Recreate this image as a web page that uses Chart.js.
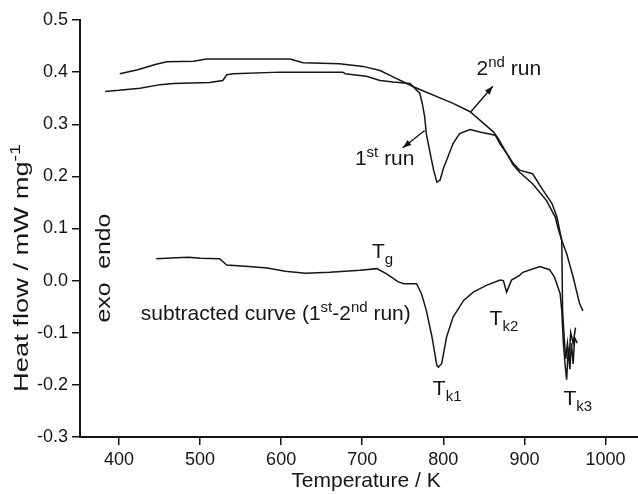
<!DOCTYPE html>
<html>
<head>
<meta charset="utf-8">
<script src="https://cdn.jsdelivr.net/npm/chart.js@4.4.0/dist/chart.umd.min.js"></script>
<style>
  html, body { margin: 0; padding: 0; background: #fff; }
  #wrap { width: 638px; height: 494px; }
</style>
</head>
<body>
<div id="wrap"><canvas id="dscChart" width="638" height="494"></canvas></div>
<script>
// values: temperature in K, heat flow in mW/mg
const run1Temp = [383, 400, 426, 451, 467, 512, 528, 533, 541, 599, 676, 679, 705, 722, 738, 759, 771, 774, 777, 779, 783, 788, 792, 796, 800, 804, 812, 820, 833, 845, 864, 870, 878, 886, 894, 910, 927, 938, 941, 946, 947, 949, 951, 953, 955, 957, 960, 963];
const run1Flow = [0.363, 0.365, 0.369, 0.376, 0.378, 0.380, 0.384, 0.395, 0.397, 0.400, 0.400, 0.397, 0.392, 0.384, 0.381, 0.378, 0.359, 0.340, 0.314, 0.282, 0.250, 0.212, 0.189, 0.193, 0.215, 0.231, 0.263, 0.282, 0.290, 0.285, 0.279, 0.262, 0.244, 0.222, 0.208, 0.186, 0.154, 0.122, 0.103, 0.077, -0.057, -0.110, -0.150, -0.120, -0.150, -0.100, -0.120, -0.090];

const run2Temp = [401, 422, 446, 459, 492, 508, 611, 627, 672, 701, 722, 738, 763, 812, 833, 862, 868, 876, 886, 894, 910, 923, 934, 940, 946, 952, 960, 968, 972];
const run2Flow = [0.397, 0.404, 0.415, 0.420, 0.421, 0.425, 0.425, 0.418, 0.416, 0.411, 0.403, 0.391, 0.372, 0.340, 0.324, 0.285, 0.272, 0.250, 0.225, 0.212, 0.205, 0.173, 0.148, 0.122, 0.077, 0.052, 0.007, -0.044, -0.058];

const subTemp = [446, 470, 486, 500, 524, 533, 560, 583, 605, 630, 660, 697, 718, 730, 744, 751, 767, 773, 779, 786, 792, 794, 798, 804, 812, 825, 837, 853, 870, 874, 878, 884, 894, 898, 919, 931, 937, 944, 946, 948, 950, 952, 954, 956, 958, 960, 962, 965];
const subFlow = [0.042, 0.044, 0.045, 0.043, 0.042, 0.030, 0.027, 0.024, 0.018, 0.014, 0.016, 0.020, 0.023, 0.013, -0.002, -0.006, -0.006, -0.025, -0.057, -0.108, -0.163, -0.166, -0.159, -0.108, -0.070, -0.038, -0.022, -0.009, 0.001, 0.000, -0.022, 0.001, 0.010, 0.016, 0.027, 0.021, 0.007, -0.025, -0.057, -0.120, -0.160, -0.190, -0.130, -0.170, -0.120, -0.160, -0.110, -0.120];

const xTickValues = [400, 500, 600, 700, 800, 900, 1000];
const yTickValues = [-0.3, -0.2, -0.1, 0.0, 0.1, 0.2, 0.3, 0.4, 0.5];

const FONT = "'Liberation Sans', Arial, Helvetica, sans-serif";
const INK = "#151515";
const TEXT_SIZE = 21;

function toPoints(xs, ys) {
  return xs.map(function (x, i) {
    return { x: x, y: ys[i] };
  });
}

// text made of pieces, each piece [text, "", "sub" or "sup"]
function richWidth(ctx, parts, size) {
  let w = 0;
  parts.forEach(function (p) {
    ctx.font = (p[1] ? Math.round(size * 0.72) : size) + "px " + FONT;
    w += ctx.measureText(p[0]).width;
  });
  return w;
}

function drawRich(ctx, parts, x, y, size) {
  let cx = x;
  parts.forEach(function (p) {
    ctx.font = (p[1] ? Math.round(size * 0.72) : size) + "px " + FONT;
    let dy = 0;
    if (p[1] === "sub") dy = size * 0.28;
    if (p[1] === "sup") dy = -size * 0.38;
    ctx.fillText(p[0], cx, y + dy);
    cx += ctx.measureText(p[0]).width;
  });
}

function arrow(ctx, x1, y1, x2, y2) {
  const a = Math.atan2(y2 - y1, x2 - x1);
  ctx.beginPath();
  ctx.moveTo(x1, y1);
  ctx.lineTo(x2, y2);
  ctx.stroke();
  ctx.beginPath();
  ctx.moveTo(x2, y2);
  ctx.lineTo(x2 - 9 * Math.cos(a - 0.35), y2 - 9 * Math.sin(a - 0.35));
  ctx.lineTo(x2 - 9 * Math.cos(a + 0.35), y2 - 9 * Math.sin(a + 0.35));
  ctx.closePath();
  ctx.fill();
}

// labels are placed in data coordinates: [temperature, heat flow]
const plotLabels = [
  { at: [841, 0.394], parts: [["2", ""], ["nd", "sup"], [" run", ""]] },
  { at: [691, 0.221], parts: [["1", ""], ["st", "sup"], [" run", ""]] },
  { at: [712, 0.043], parts: [["T", ""], ["g", "sub"]] },
  { at: [427, -0.076], parts: [["subtracted curve (1", ""], ["st", "sup"], ["-2", ""], ["nd", "sup"], [" run)", ""]] },
  { at: [857, -0.086], parts: [["T", ""], ["k2", "sub"]] },
  { at: [787, -0.220], parts: [["T", ""], ["k1", "sub"]] },
  { at: [948, -0.239], parts: [["T", ""], ["k3", "sub"]] }
];

const plotArrows = [
  { from: [777, 0.288], to: [750, 0.255] },
  { from: [834, 0.324], to: [861, 0.373] }
];

const annotations = {
  id: "annotations",
  afterDatasetsDraw: function (chart) {
    const ctx = chart.ctx;
    const xs = chart.scales.x;
    const ys = chart.scales.y;
    ctx.save();
    ctx.fillStyle = INK;
    ctx.strokeStyle = INK;
    ctx.lineWidth = 1.4;
    ctx.textBaseline = "alphabetic";
    ctx.textAlign = "left";

    plotLabels.forEach(function (l) {
      drawRich(ctx, l.parts, xs.getPixelForValue(l.at[0]), ys.getPixelForValue(l.at[1]), TEXT_SIZE);
    });

    plotArrows.forEach(function (a) {
      arrow(ctx,
        xs.getPixelForValue(a.from[0]), ys.getPixelForValue(a.from[1]),
        xs.getPixelForValue(a.to[0]), ys.getPixelForValue(a.to[1]));
    });

    // exo / endo marker, written upwards (the source figure is a bit stretched vertically)
    ctx.save();
    ctx.translate(xs.getPixelForValue(379) + 8, ys.getPixelForValue(0.024));
    ctx.rotate(-Math.PI / 2);
    ctx.scale(1.18, 1);
    ctx.font = TEXT_SIZE + "px " + FONT;
    ctx.textAlign = "center";
    ctx.fillText("exo  endo", 0, 0);
    ctx.restore();

    // axis titles
    const yTitle = [["Heat flow / mW mg", ""], ["-1", "sup"]];
    ctx.save();
    ctx.translate(28, 268);
    ctx.rotate(-Math.PI / 2);
    ctx.scale(1.3, 1);
    drawRich(ctx, yTitle, -richWidth(ctx, yTitle, TEXT_SIZE) / 2, 0, TEXT_SIZE);
    ctx.restore();

    ctx.font = TEXT_SIZE + "px " + FONT;
    ctx.textAlign = "center";
    ctx.fillText("Temperature / K", 366, 487);
    ctx.restore();
  }
};

const lineStyle = {
  borderColor: INK,
  borderWidth: 1.5,
  pointRadius: 0,
  tension: 0,
  fill: false
};

new Chart(document.getElementById("dscChart"), {
  type: "line",
  data: {
    datasets: [
      Object.assign({ label: "1st run", data: toPoints(run1Temp, run1Flow) }, lineStyle),
      Object.assign({ label: "2nd run", data: toPoints(run2Temp, run2Flow) }, lineStyle),
      Object.assign({ label: "subtracted", data: toPoints(subTemp, subFlow) }, lineStyle)
    ]
  },
  options: {
    responsive: false,
    animation: false,
    devicePixelRatio: 1,
    layout: { padding: { top: 20, right: 0, bottom: 0, left: 0 } },
    plugins: {
      legend: { display: false },
      tooltip: { enabled: false }
    },
    scales: {
      x: {
        type: "linear",
        min: 352,
        max: 1040,
        afterBuildTicks: function (scale) {
          scale.ticks = xTickValues.map(function (v) { return { value: v }; });
        },
        afterFit: function (scale) { scale.height = 57; },
        grid: { drawOnChartArea: false, drawTicks: true, tickLength: 8, color: INK, lineWidth: 1.5 },
        border: { display: true, color: INK, width: 2 },
        ticks: {
          color: INK,
          font: { family: FONT, size: 18 },
          padding: 4,
          maxRotation: 0,
          autoSkip: false,
          callback: function (v) { return String(v); }
        }
      },
      y: {
        type: "linear",
        min: -0.3,
        max: 0.5,
        afterBuildTicks: function (scale) {
          scale.ticks = yTickValues.map(function (v) { return { value: v }; });
        },
        afterFit: function (scale) { scale.width = 80; },
        grid: { drawOnChartArea: false, drawTicks: true, tickLength: 8, color: INK, lineWidth: 1.5 },
        border: { display: true, color: INK, width: 2 },
        ticks: {
          color: INK,
          font: { family: FONT, size: 18 },
          padding: 4,
          callback: function (v) { return v.toFixed(1); }
        }
      }
    }
  },
  plugins: [annotations]
});
</script>
</body>
</html>
